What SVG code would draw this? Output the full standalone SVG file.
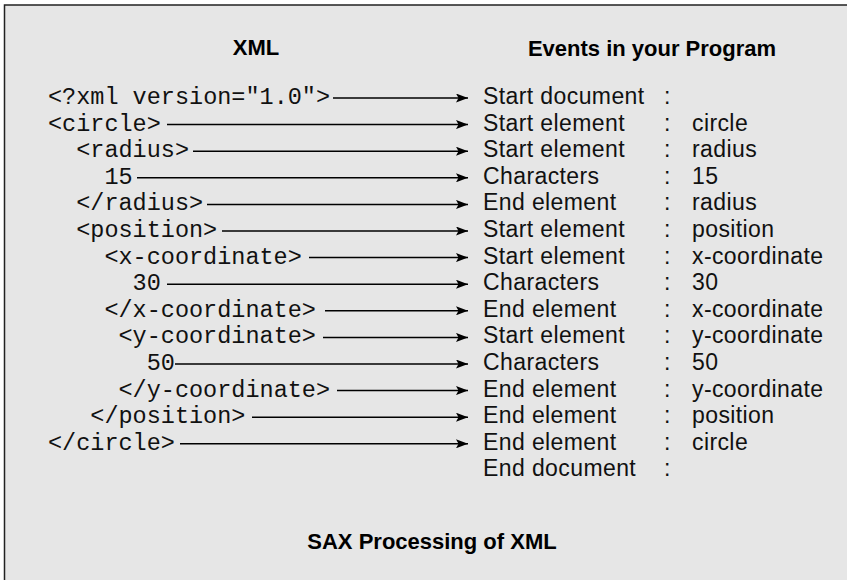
<svg xmlns="http://www.w3.org/2000/svg" width="847" height="580" viewBox="0 0 847 580">
<defs>
<style>
.hdr{font-family:"Liberation Sans",Arial,sans-serif;font-weight:bold;font-size:22px;fill:#000;text-anchor:middle}
.xml{font-family:"Liberation Mono","Courier New",monospace;font-size:23.5px;fill:#111}
.ev{font-family:"Liberation Sans",Arial,sans-serif;font-size:23px;letter-spacing:0.4px;fill:#111}
.ln{stroke:#000;stroke-width:1.5;fill:none;marker-end:url(#ah)}
</style>
<marker id="ah" markerWidth="12" markerHeight="9" refX="12" refY="4.5" orient="auto" markerUnits="userSpaceOnUse">
<path d="M0,0 L12,4.5 L0,9 L2.5,4.5 z" fill="#000"/>
</marker>
</defs>
<rect x="0" y="0" width="847" height="580" fill="#fff"/>
<rect x="4.5" y="5" width="850" height="580" fill="#e6e6e6" stroke="#222" stroke-width="1.5"/>
<g id="headers">
<text class="hdr" x="256" y="55">XML</text>
<text class="hdr" x="652" y="56">Events in your Program</text>
<text class="hdr" x="432" y="549">SAX Processing of XML</text>
</g>
<g id="xml-source">
<text class="xml" x="48" y="104">&lt;?xml version="1.0"&gt;</text>
<text class="xml" x="48" y="130.6">&lt;circle&gt;</text>
<text class="xml" x="76.2" y="157.2">&lt;radius&gt;</text>
<text class="xml" x="104.4" y="183.8">15</text>
<text class="xml" x="76.2" y="210.4">&lt;/radius&gt;</text>
<text class="xml" x="76.2" y="237">&lt;position&gt;</text>
<text class="xml" x="104.4" y="263.6">&lt;x-coordinate&gt;</text>
<text class="xml" x="132.6" y="290.2">30</text>
<text class="xml" x="104.4" y="316.8">&lt;/x-coordinate&gt;</text>
<text class="xml" x="118.5" y="343.4">&lt;y-coordinate&gt;</text>
<text class="xml" x="146.7" y="370">50</text>
<text class="xml" x="118.5" y="396.6">&lt;/y-coordinate&gt;</text>
<text class="xml" x="90.3" y="423.2">&lt;/position&gt;</text>
<text class="xml" x="48" y="449.8">&lt;/circle&gt;</text>
</g>
<g id="connectors">
<line class="ln" x1="333" y1="98" x2="468" y2="98"/>
<line class="ln" x1="167" y1="124.6" x2="468" y2="124.6"/>
<line class="ln" x1="193" y1="151.2" x2="468" y2="151.2"/>
<line class="ln" x1="137" y1="177.8" x2="468" y2="177.8"/>
<line class="ln" x1="207" y1="204.4" x2="468" y2="204.4"/>
<line class="ln" x1="222" y1="231" x2="468" y2="231"/>
<line class="ln" x1="309" y1="257.6" x2="468" y2="257.6"/>
<line class="ln" x1="167" y1="284.2" x2="468" y2="284.2"/>
<line class="ln" x1="325" y1="310.8" x2="468" y2="310.8"/>
<line class="ln" x1="323" y1="337.4" x2="468" y2="337.4"/>
<line class="ln" x1="175" y1="364" x2="468" y2="364"/>
<line class="ln" x1="337" y1="390.6" x2="468" y2="390.6"/>
<line class="ln" x1="252" y1="417.2" x2="468" y2="417.2"/>
<line class="ln" x1="180" y1="443.8" x2="468" y2="443.8"/>
</g>
<g id="events">
<text class="ev" x="483" y="104">Start document</text><text class="ev" x="664" y="104">:</text>
<text class="ev" x="483" y="130.6">Start element</text><text class="ev" x="664" y="130.6">:</text><text class="ev" x="692" y="130.6">circle</text>
<text class="ev" x="483" y="157.2">Start element</text><text class="ev" x="664" y="157.2">:</text><text class="ev" x="692" y="157.2">radius</text>
<text class="ev" x="483" y="183.8">Characters</text><text class="ev" x="664" y="183.8">:</text><text class="ev" x="692" y="183.8">15</text>
<text class="ev" x="483" y="210.4">End element</text><text class="ev" x="664" y="210.4">:</text><text class="ev" x="692" y="210.4">radius</text>
<text class="ev" x="483" y="237">Start element</text><text class="ev" x="664" y="237">:</text><text class="ev" x="692" y="237">position</text>
<text class="ev" x="483" y="263.6">Start element</text><text class="ev" x="664" y="263.6">:</text><text class="ev" x="692" y="263.6">x-coordinate</text>
<text class="ev" x="483" y="290.2">Characters</text><text class="ev" x="664" y="290.2">:</text><text class="ev" x="692" y="290.2">30</text>
<text class="ev" x="483" y="316.8">End element</text><text class="ev" x="664" y="316.8">:</text><text class="ev" x="692" y="316.8">x-coordinate</text>
<text class="ev" x="483" y="343.4">Start element</text><text class="ev" x="664" y="343.4">:</text><text class="ev" x="692" y="343.4">y-coordinate</text>
<text class="ev" x="483" y="370">Characters</text><text class="ev" x="664" y="370">:</text><text class="ev" x="692" y="370">50</text>
<text class="ev" x="483" y="396.6">End element</text><text class="ev" x="664" y="396.6">:</text><text class="ev" x="692" y="396.6">y-coordinate</text>
<text class="ev" x="483" y="423.2">End element</text><text class="ev" x="664" y="423.2">:</text><text class="ev" x="692" y="423.2">position</text>
<text class="ev" x="483" y="449.8">End element</text><text class="ev" x="664" y="449.8">:</text><text class="ev" x="692" y="449.8">circle</text>
<text class="ev" x="483" y="476.4">End document</text><text class="ev" x="664" y="476.4">:</text>
</g>
</svg>
